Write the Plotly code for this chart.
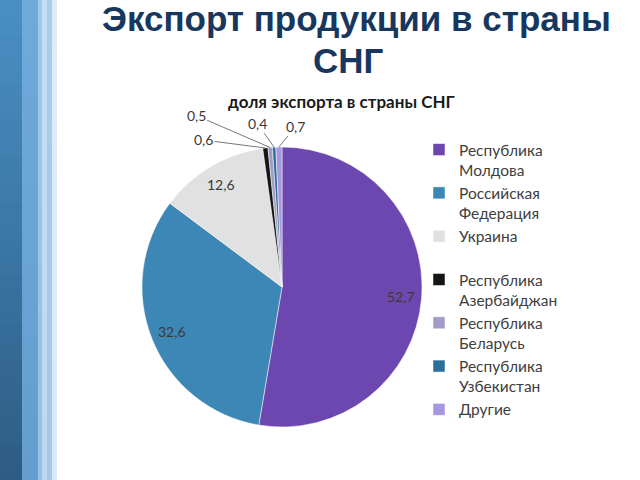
import math
import plotly.graph_objects as go

# ---------------- data ----------------
countries = ["Республика<br>Молдова", "Российская<br>Федерация", "Украина<br>&nbsp;",
             "Республика<br>Азербайджан", "Республика<br>Беларусь",
             "Республика<br>Узбекистан", "Другие"]
values = [52.7, 32.6, 12.6, 0.6, 0.5, 0.4, 0.7]
colors = ["#6D47B0", "#3C87B6", "#E1E1E1", "#151515", "#A39BC6", "#2B6E9B", "#A797DF"]
title_lines = ["Экспорт продукции в страны", "СНГ"]
chart_title = "доля экспорта в страны СНГ"

W, H = 640, 480
# pie placement (pixels)
PCX, PCY, PR = 282, 287, 140
dom_x = [(PCX - PR) / W, (PCX + PR) / W]
dom_y = [1 - (PCY + PR) / H, 1 - (PCY - PR) / H]
cx, cy = (dom_x[0] + dom_x[1]) / 2, (dom_y[0] + dom_y[1]) / 2

fig = go.Figure()
fig.add_trace(go.Pie(
    labels=countries, values=values, sort=False, direction="clockwise", rotation=0,
    marker=dict(colors=colors, line=dict(color="white", width=0.5)),
    textinfo="none", hoverinfo="label+value", domain=dict(x=dom_x, y=dom_y),
    showlegend=True,
))

total = sum(values)
def pos(frac, rfac):
    th = 2 * math.pi * frac
    return cx + rfac * PR * math.sin(th) / W, cy + rfac * PR * math.cos(th) / H

def fmt(v):
    return f"{v:.1f}".replace(".", ",")

label_font = dict(family="Lato", size=14, color="#3A3A3A")
annotations = []
cum = 0
# label offsets for the small slices (pixels, text relative to slice edge)
small_offsets = {3: (-62, -8), 4: (-74, -32), 5: (-17, -24), 6: (17, -21)}
for i, v in enumerate(values):
    mid = (cum + v / 2) / total
    cum += v
    if i < 3:
        x, y = pos(mid, 0.85)
        annotations.append(dict(x=x, y=y, xref="paper", yref="paper", text=fmt(v),
                                xanchor="center", yanchor="middle",
                                showarrow=False, font=label_font))
    else:
        x, y = pos(mid, 1.0)
        ax, ay = small_offsets[i]
        annotations.append(dict(x=x, y=y, xref="paper", yref="paper", text=fmt(v),
                                showarrow=True, ax=ax, ay=ay, arrowhead=0, arrowwidth=0.8,
                                arrowcolor="#555555", standoff=0, font=label_font))

title_font = dict(family="Liberation Sans", size=35, color="#17375E")
annotations.append(dict(x=356 / W, y=1 - 19 / H, xref="paper", yref="paper",
                        text="<b>" + title_lines[0] + "</b>", showarrow=False,
                        xanchor="center", yanchor="middle", font=title_font))
annotations.append(dict(x=348 / W, y=1 - 60 / H, xref="paper", yref="paper",
                        text="<b>" + title_lines[1] + "</b>", showarrow=False,
                        xanchor="center", yanchor="middle", font=title_font))
annotations.append(dict(x=341 / W, y=1 - 101 / H, xref="paper", yref="paper",
                        text="<b>" + chart_title + "</b>", showarrow=False,
                        xanchor="center", yanchor="middle",
                        font=dict(family="Lato", size=17, color="#1A1A1A")))

# left decorative stripes with vertical gradient
shapes = []
N = 40
def lerp(c1, c2, t):
    return "rgb(%d,%d,%d)" % tuple(round(a + (b - a) * t) for a, b in zip(c1, c2))
stripes = [
    (0, 22, (74, 144, 196), (45, 92, 132)),
    (22, 38, (112, 170, 218), (100, 158, 206)),
    (38, 42, (160, 200, 232), (150, 192, 228)),
    (42, 47, (196, 222, 242), (188, 216, 240)),
    (47, 52, (170, 205, 234), (165, 200, 232)),
    (52, 57, (222, 236, 248), (218, 234, 248)),
]
for x0, x1, c_top, c_bot in stripes:
    for k in range(N):
        shapes.append(dict(type="rect", xref="paper", yref="paper",
                           x0=x0 / W, x1=x1 / W, y0=1 - (k + 1) / N, y1=1 - k / N,
                           fillcolor=lerp(c_top, c_bot, (k + 0.5) / N), line=dict(width=0),
                           layer="below"))

fig.update_layout(
    width=W, height=H, margin=dict(l=0, r=0, t=0, b=0),
    paper_bgcolor="white", plot_bgcolor="white",
    annotations=annotations, shapes=shapes,
    legend=dict(x=419 / W, y=1 - 133 / H, xanchor="left", yanchor="top", valign="top",
                font=dict(family="Lato", size=15.5, color="#404040"),
                itemwidth=30, bgcolor="rgba(0,0,0,0)", tracegroupgap=0),
)
fig.write_html("out.html")
